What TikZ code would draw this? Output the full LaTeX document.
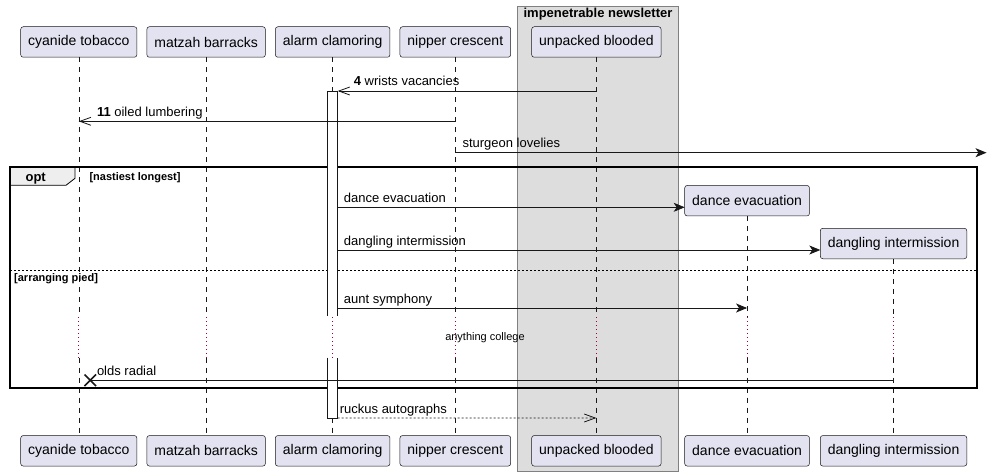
\documentclass[tikz,border=0pt]{standalone}
\usepackage{fontspec}
\setmainfont{Liberation Sans}
\usetikzlibrary{positioning,arrows.meta,shapes.misc,calc}
\definecolor{partfill}{HTML}{E2E2F0}
\definecolor{linecol}{HTML}{181818}
\definecolor{groupfill}{HTML}{DDDDDD}
\definecolor{groupdraw}{HTML}{808080}
\definecolor{tabfill}{HTML}{EEEEEE}
\definecolor{delaycol}{HTML}{A80036}
\begin{document}
\begin{tikzpicture}[x=1pt,y=-1pt,
  part/.style={draw=linecol, line width=0.5pt, fill=partfill, rounded corners=2.5pt,
    minimum height=30.5pt, inner xsep=7.5pt, inner ysep=0pt, outer sep=0pt,
    font=\fontsize{14}{16}\selectfont},
  lifeline/.style={draw=linecol, line width=0.5pt, dash pattern=on 5pt off 5pt},
  delayline/.style={draw=delaycol, line width=1pt, dash pattern=on 1pt off 3pt},
  actbar/.style={fill=white, minimum width=10pt, inner sep=0pt, outer sep=0pt, anchor=north},
  actedge/.style={draw=linecol, line width=0.8pt},
  msg/.style={draw=linecol, line width=0.8pt, -{Stealth[length=11pt,width=9pt,inset=3pt]}},
  asyncmsg/.style={draw=linecol, line width=0.8pt, -{Straight Barb[length=11pt,width=8pt]}},
  retmsg/.style={asyncmsg, dash pattern=on 2pt off 2pt},
  msgtext/.style={anchor=base west, inner sep=0pt, font=\fontsize{13}{15}\selectfont},
  condtext/.style={anchor=base west, inner sep=0pt, font=\bfseries\fontsize{11}{13}\selectfont},
  destroy/.style={cross out, draw=linecol, line width=1.6pt, minimum size=10pt, inner sep=0pt},
  groupbox/.style={draw=groupdraw, line width=0.8pt, fill=groupfill},
  frame/.style={draw=black, line width=1.8pt},
  tabbox/.style={draw=black, line width=0.8pt, fill=tabfill},
  separator/.style={draw=black, line width=0.6pt, dash pattern=on 2pt off 2pt},
]
\useasboundingbox (0,0) rectangle (987,476);
\fill[white] (0,0) rectangle (987,476);

% box around the grouped participant
\draw[groupbox] (517.3,6) rectangle (678.7,471.3);
\node[anchor=base, inner sep=0pt, font=\bfseries\fontsize{13}{15}\selectfont] (gt) at (598,18) {impenetrable newsletter};

% rows of message heights
\coordinate (m1) at (0,91);
\coordinate (m2) at (0,121.3);
\coordinate (m3) at (0,152.7);
\coordinate (m4) at (0,207.3);
\coordinate (m5) at (0,250);
\coordinate (m6) at (0,308);
\coordinate (dl1) at (0,317);
\coordinate (dl2) at (0,357.7);
\coordinate (m7) at (0,380.3);
\coordinate (m8) at (0,418);
\coordinate (bot) at (0,450.8);

% participants
\node[part] (ct) at (78.8,42) {cyanide tobacco};
\node[part, right=10pt of ct] (mb) {matzah barracks};
\node[part, right=10pt of mb] (ac) {alarm clamoring};
\node[part, right=10pt of ac] (nc) {nipper crescent};
\node[part, right=21pt of nc] (ub) {unpacked blooded};
\node[part, anchor=west] (de) at (684.7,200.7) {dance evacuation};
\node[part, anchor=west] (di) at (820.3,243.5) {dangling intermission};

\node[part] (ctb) at (ct |- bot) {cyanide tobacco};
\node[part] (mbb) at (mb |- bot) {matzah barracks};
\node[part] (acb) at (ac |- bot) {alarm clamoring};
\node[part] (ncb) at (nc |- bot) {nipper crescent};
\node[part] (ubb) at (ub |- bot) {unpacked blooded};
\node[part] (deb) at (de |- bot) {dance evacuation};
\node[part] (dib) at (di |- bot) {dangling intermission};

% lifelines
\draw[lifeline] (ct.south) -- (ct |- dl1) (ct |- dl2) -- (ctb.north);
\draw[lifeline] (mb.south) -- (mb |- dl1) (mb |- dl2) -- (mbb.north);
\draw[lifeline] (ac.south) -- (ac |- dl1) (ac |- dl2) -- (acb.north);
\draw[lifeline] (nc.south) -- (nc |- dl1) (nc |- dl2) -- (ncb.north);
\draw[lifeline] (ub.south) -- (ub |- dl1) (ub |- dl2) -- (ubb.north);
\draw[lifeline] (de.south) -- (de |- dl1) (de |- dl2) -- (deb.north);
\draw[lifeline] (di.south) -- (di |- dl1) (di |- dl2) -- (dib.north);
\draw[delayline] (ct |- dl1) -- (ct |- dl2) (mb |- dl1) -- (mb |- dl2)
  (ac |- dl1) -- (ac |- dl2) (nc |- dl1) -- (nc |- dl2) (ub |- dl1) -- (ub |- dl2)
  (de |- dl1) -- (de |- dl2) (di |- dl1) -- (di |- dl2);
\node[inner sep=0pt, font=\fontsize{11}{13}\selectfont] (dt) at (485,338) {anything college};

% opt frame
\draw[tabbox] (10,167.3) -- (75,167.3) -- (75,178.3) -- (66,185.3) -- (10,185.3) -- cycle;
\node[anchor=base, inner sep=0pt, font=\bfseries\fontsize{13}{15}\selectfont] (opt) at (35.7,181.5) {opt};
\node[condtext] (c1) at (89.3,180.5) {[nastiest longest]};
\draw[separator] (10,270.7) -- (977.3,270.7);
\node[condtext] (c2) at (14,281.5) {[arranging pied]};
\draw[frame] (10,167.3) rectangle (977.3,388);

% activations, open at the delay
\node[actbar, minimum height=224.7pt] (act1) at (ac |- m1) {};
\draw[actedge] (act1.south west) -- (act1.north west) -- (act1.north east) -- (act1.south east);
\node[actbar, minimum height=60.3pt] (act2) at (ac |- dl2) {};
\draw[actedge] (act2.north west) -- (act2.south west) -- (act2.south east) -- (act2.north east);

% messages
\draw[asyncmsg] (ub |- m1) -- (act1.north east);
\node[msgtext] (t1) at ($(act1.north east)+(16,-5.5)$) {\textbf{4} wrists vacancies};
\draw[asyncmsg] (nc |- m2) -- (ct |- m2);
\node[msgtext] (t2) at ($(ct |- m2)+(18,-5)$) {\textbf{11} oiled lumbering};
\coordinate (edge) at (986.5,152.7);
\draw[msg] (nc |- m3) -- (edge);
\node[msgtext] (t3) at ($(nc |- m3)+(7,-5)$) {sturgeon lovelies};
\draw[msg] (act1.east |- m4) -- (de.west |- m4);
\node[msgtext] (t4) at ($(act1.east |- m4)+(6,-4.5)$) {dance evacuation};
\draw[msg] (act1.east |- m5) -- (di.west |- m5);
\node[msgtext] (t5) at ($(act1.east |- m5)+(6,-5)$) {dangling intermission};
\draw[msg] (act1.east |- m6) -- (de |- m6);
\node[msgtext] (t6) at ($(act1.east |- m6)+(6,-5)$) {aunt symphony};
\node[destroy] (x1) at ($(ct |- m7)+(11.5,0)$) {};
\draw[draw=linecol, line width=0.8pt] (di |- m7) -- (x1.center);
\node[msgtext] (t7) at ($(ct |- m7)+(18,-5)$) {olds radial};
\draw[retmsg] (act2.south east) -- (ub |- m8);
\node[msgtext] (t8) at ($(act2.south east)+(2,-5)$) {ruckus autographs};
\end{tikzpicture}
\end{document}
